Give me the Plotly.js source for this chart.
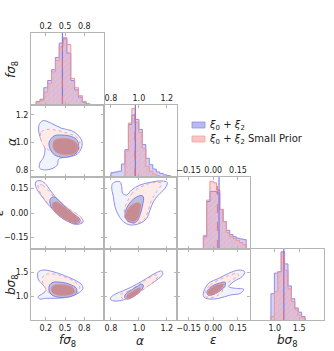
<!DOCTYPE html>
<html>
<head>
<meta charset="utf-8">
<script src="https://cdn.plot.ly/plotly-3.0.1.min.js"></script>
<style>html,body{margin:0;padding:0;background:#fff}#chart{width:334px;height:351px}</style>
</head>
<body>
<div id="chart"></div>
<script>
// parameter axes
const paramLabels = ["<i>fσ</i><sub>8</sub>", "<i>α</i>", "<i>ε</i>", "<i>bσ</i><sub>8</sub>"];
const paramRanges = [[-0.03, 1.1], [0.75, 1.27], [-0.22, 0.22], [0.5, 2.0]];
const paramTicks = [[0.2, 0.5, 0.8], [0.8, 1.0, 1.2], [-0.15, 0, 0.15], [1.0, 1.5]];
const paramTickText = [["0.2", "0.5", "0.8"], ["0.8", "1.0", "1.2"], ["−0.15", "0.00", "0.15"], ["1.0", "1.5"]];

const seriesNames = ["<i>ξ</i><sub>0</sub> + <i>ξ</i><sub>2</sub>", "<i>ξ</i><sub>0</sub> + <i>ξ</i><sub>2</sub> Small Prior"];

// 1D marginals (left edge of first bin, bin width, normalised heights)
const fs8BinStart = 0.05, fs8BinWidth = 0.06;
const fs8Blue = [0.05, 0.08, 0.24, 0.34, 0.49, 0.66, 0.86, 0.92, 0.72, 0.34, 0.21, 0.11, 0.04, 0.01];
const fs8Pink = [0.04, 0.06, 0.18, 0.30, 0.46, 0.62, 0.81, 0.94, 0.84, 0.37, 0.24, 0.13, 0.05, 0.02];

const alphaBinStart = 0.80, alphaBinWidth = 0.025;
const alphaBlue = [0.06, 0.07, 0.08, 0.18, 0.38, 0.73, 0.86, 0.80, 0.66, 0.45, 0.26, 0.17, 0.11, 0.07, 0.05, 0.03, 0.02];
const alphaPink = [0, 0, 0, 0, 0.36, 0.75, 0.95, 0.76, 0.62, 0.40, 0.15, 0.08, 0.04, 0.02, 0, 0, 0];

const epsBinStart = -0.06, epsBinWidth = 0.02;
const epsBlue = [0.17, 0.66, 0.80, 0.80, 0.78, 0.55, 0.38, 0.26, 0.20, 0.17, 0.15, 0.14, 0.13];
const epsPink = [0.19, 0.68, 0.94, 0.92, 0.82, 0.55, 0.38, 0.23, 0.17, 0.15, 0.12, 0.09, 0.06];

const bs8BinStart = 0.92, bs8BinWidth = 0.07;
const bs8Blue = [0.37, 0.66, 0.68, 0.96, 0.79, 0.48, 0.30, 0.17, 0.11, 0.05];
const bs8Pink = [0.05, 0.40, 0.68, 0.96, 0.70, 0.44, 0.26, 0.15, 0.07, 0.03];

const blueMedians = [0.46, 0.975, 0.035, 1.185];
const pinkMedians = [0.46, 0.972, 0.025, 1.18];

// 2D contours, [x, y] in data units
const fs8Alpha_blueOuter = [[0.095,1.065],[0.095,1.126],[0.157,1.157],[0.287,1.138],[0.443,1.102],[0.599,1.085],[0.702,1.053],[0.765,1.005],[0.754,0.957],[0.692,0.916],[0.573,0.897],[0.469,0.892],[0.401,0.878],[0.380,0.837],[0.313,0.813],[0.183,0.801],[0.105,0.813],[0.105,0.849],[0.157,0.885],[0.183,0.921],[0.183,0.969],[0.131,1.017]];
const fs8Alpha_pinkOuter = [[0.121,1.029],[0.131,1.077],[0.235,1.094],[0.391,1.085],[0.547,1.065],[0.676,1.041],[0.728,1.005],[0.728,0.957],[0.676,0.921],[0.547,0.902],[0.417,0.909],[0.287,0.933],[0.209,0.957],[0.157,0.981]];
const fs8Alpha_blueInner = [[0.250,0.993],[0.287,1.029],[0.339,1.049],[0.443,1.053],[0.573,1.046],[0.676,1.022],[0.713,0.981],[0.692,0.933],[0.599,0.902],[0.469,0.892],[0.339,0.909],[0.276,0.945]];
const fs8Alpha_pinkInner = [[0.313,0.993],[0.339,1.017],[0.443,1.029],[0.573,1.024],[0.676,0.998],[0.702,0.957],[0.651,0.921],[0.521,0.909],[0.391,0.921],[0.323,0.950]];

const fs8Eps_blueOuter = [[0.048,0.192],[0.110,0.198],[0.188,0.181],[0.266,0.141],[0.344,0.100],[0.448,0.059],[0.578,0.018],[0.733,-0.022],[0.785,-0.053],[0.733,-0.067],[0.630,-0.067],[0.526,-0.043],[0.396,-0.002],[0.266,0.039],[0.162,0.090],[0.069,0.141],[0.038,0.171]];
const fs8Eps_pinkOuter = [[0.084,0.177],[0.152,0.169],[0.256,0.130],[0.344,0.090],[0.474,0.049],[0.604,0.014],[0.749,-0.026],[0.765,-0.055],[0.708,-0.061],[0.578,-0.047],[0.422,-0.012],[0.276,0.039],[0.162,0.096],[0.090,0.145]];
const fs8Eps_blueInner = [[0.276,0.090],[0.334,0.098],[0.422,0.069],[0.526,0.029],[0.656,-0.012],[0.733,-0.039],[0.723,-0.059],[0.656,-0.063],[0.552,-0.053],[0.422,-0.022],[0.318,0.018],[0.266,0.059]];
const fs8Eps_pinkInner = [[0.308,0.063],[0.370,0.069],[0.448,0.049],[0.552,0.018],[0.671,-0.018],[0.723,-0.043],[0.682,-0.059],[0.578,-0.055],[0.448,-0.026],[0.344,0.008],[0.303,0.039]];

const alphaEps_blueOuter = [[0.817,0.185],[0.865,0.191],[0.877,0.161],[0.884,0.120],[0.913,0.110],[0.948,0.141],[1.008,0.171],[1.080,0.187],[1.164,0.196],[1.204,0.187],[1.188,0.151],[1.140,0.110],[1.104,0.069],[1.080,0.018],[1.056,-0.033],[1.008,-0.063],[0.937,-0.073],[0.889,-0.053],[0.853,-0.012],[0.829,0.039],[0.817,0.100],[0.805,0.161]];
const alphaEps_pinkOuter = [[0.917,0.069],[0.948,0.116],[0.984,0.145],[1.056,0.175],[1.116,0.187],[1.164,0.181],[1.128,0.130],[1.092,0.079],[1.068,0.018],[1.044,-0.033],[0.996,-0.059],[0.937,-0.059],[0.901,-0.033],[0.896,0.018]];
const alphaEps_blueInner = [[0.925,0.049],[0.960,0.084],[1.008,0.106],[1.032,0.100],[1.027,0.049],[1.008,-0.012],[0.984,-0.053],[0.948,-0.059],[0.913,-0.043],[0.901,-0.002]];
const alphaEps_pinkInner = [[0.917,0.018],[0.948,0.049],[0.984,0.063],[1.013,0.055],[1.008,0.008],[0.984,-0.043],[0.948,-0.053],[0.917,-0.039],[0.905,-0.012]];

const fs8Bs8_blueOuter = [[0.079,1.507],[0.157,1.556],[0.313,1.521],[0.495,1.437],[0.651,1.345],[0.754,1.254],[0.780,1.169],[0.728,1.085],[0.625,1.014],[0.495,0.972],[0.339,0.958],[0.209,0.958],[0.105,0.944],[0.079,0.986],[0.157,1.063],[0.209,1.134],[0.157,1.239],[0.089,1.345]];
const fs8Bs8_pinkOuter = [[0.141,1.380],[0.209,1.465],[0.365,1.465],[0.521,1.394],[0.651,1.310],[0.728,1.204],[0.702,1.099],[0.599,1.028],[0.443,0.993],[0.313,1.028],[0.235,1.099],[0.183,1.204]];
const fs8Bs8_blueInner = [[0.261,1.239],[0.313,1.296],[0.443,1.296],[0.573,1.254],[0.676,1.169],[0.676,1.063],[0.573,0.993],[0.417,0.979],[0.297,1.028],[0.250,1.134]];
const fs8Bs8_pinkInner = [[0.297,1.204],[0.391,1.254],[0.521,1.239],[0.625,1.183],[0.651,1.085],[0.573,1.028],[0.443,1.014],[0.339,1.042],[0.287,1.113]];

const alphaBs8_blueOuter = [[0.798,0.972],[0.829,1.042],[0.901,1.134],[0.984,1.254],[1.056,1.380],[1.116,1.486],[1.164,1.535],[1.171,1.465],[1.128,1.345],[1.056,1.204],[0.996,1.099],[0.936,0.993],[0.889,0.923],[0.829,0.901],[0.800,0.923]];
const alphaBs8_pinkOuter = [[0.865,1.028],[0.925,1.113],[0.996,1.239],[1.056,1.359],[1.116,1.451],[1.140,1.437],[1.104,1.310],[1.044,1.169],[0.984,1.042],[0.936,0.958],[0.889,0.944]];
const alphaBs8_blueInner = [[0.901,1.028],[0.948,1.134],[0.996,1.225],[1.027,1.254],[1.032,1.204],[1.008,1.099],[0.960,0.993],[0.925,0.944],[0.901,0.958]];
const alphaBs8_pinkInner = [[0.913,1.014],[0.960,1.113],[1.004,1.183],[1.013,1.155],[0.989,1.042],[0.948,0.972],[0.917,0.958]];

const epsBs8_blueOuter = [[-0.058,1.099],[-0.028,1.275],[0.033,1.380],[0.094,1.486],[0.154,1.556],[0.191,1.521],[0.175,1.416],[0.124,1.310],[0.094,1.204],[0.134,1.169],[0.185,1.148],[0.164,1.063],[0.104,1.028],[0.033,0.958],[-0.028,0.944],[-0.058,0.993]];
const epsBs8_pinkOuter = [[-0.048,1.099],[-0.018,1.239],[0.033,1.345],[0.094,1.437],[0.144,1.486],[0.154,1.437],[0.114,1.345],[0.073,1.239],[0.053,1.099],[0.013,0.993],[-0.028,0.972],[-0.048,1.014]];
const epsBs8_blueInner = [[-0.038,1.099],[-0.012,1.204],[0.033,1.275],[0.073,1.296],[0.069,1.204],[0.033,1.099],[-0.008,1.028],[-0.032,1.028]];
const epsBs8_pinkInner = [[-0.032,1.099],[-0.008,1.190],[0.033,1.254],[0.063,1.261],[0.053,1.169],[0.023,1.085],[-0.012,1.028],[-0.032,1.042]];

const BLUE_LINE = "#8c8ce8", BLUE_FILL = "rgba(125,125,235,0.34)";
const PINK_LINE = "#f29494", PINK_FILL = "rgba(248,145,145,0.32)";
const SPINE = "#b5b5b5";

const W = 334, H = 351;
const colPx = [[31, 103.5], [104, 176.5], [177, 249.5], [250.5, 323.5]];
const rowPx = [[33, 105], [105, 177], [177, 249], [249, 320]];

const hists = [
  { start: fs8BinStart, w: fs8BinWidth, blue: fs8Blue, pink: fs8Pink },
  { start: alphaBinStart, w: alphaBinWidth, blue: alphaBlue, pink: alphaPink },
  { start: epsBinStart, w: epsBinWidth, blue: epsBlue, pink: epsPink },
  { start: bs8BinStart, w: bs8BinWidth, blue: bs8Blue, pink: bs8Pink },
];
const contours = {
  "1,0": [fs8Alpha_blueOuter, fs8Alpha_pinkOuter, fs8Alpha_blueInner, fs8Alpha_pinkInner],
  "2,0": [fs8Eps_blueOuter, fs8Eps_pinkOuter, fs8Eps_blueInner, fs8Eps_pinkInner],
  "2,1": [alphaEps_blueOuter, alphaEps_pinkOuter, alphaEps_blueInner, alphaEps_pinkInner],
  "3,0": [fs8Bs8_blueOuter, fs8Bs8_pinkOuter, fs8Bs8_blueInner, fs8Bs8_pinkInner],
  "3,1": [alphaBs8_blueOuter, alphaBs8_pinkOuter, alphaBs8_blueInner, alphaBs8_pinkInner],
  "3,2": [epsBs8_blueOuter, epsBs8_pinkOuter, epsBs8_blueInner, epsBs8_pinkInner],
};
// fill, line colour, dash for blue 95, pink 95, blue 68, pink 68
const contourStyle = [
  ["#f0f2fc", "#9090ea", "solid"],
  ["#fcebe9", "#f3a6a4", "dot"],
  ["#bcc0de", "#8080de", "solid"],
  ["#c68b93", "#eb9494", "dot"],
];

const traces = [];
const layout = {
  width: W, height: H,
  margin: { l: 0, r: 0, t: 0, b: 0 },
  paper_bgcolor: "#fff", plot_bgcolor: "#fff",
  showlegend: false, barmode: "overlay",
  font: { family: "DejaVu Sans", color: "#222" },
  annotations: [], shapes: [],
};

const axBase = {
  showline: true, linecolor: SPINE, linewidth: 1, mirror: "ticks",
  ticks: "inside", ticklen: 3, tickcolor: SPINE,
  showgrid: false, zeroline: false, fixedrange: true,
  tickfont: { family: "DejaVu Sans", size: 8, color: "#222" },
};

let n = 0;
for (let r = 0; r < 4; r++) {
  for (let c = 0; c <= r; c++) {
    n++;
    const xa = "x" + (n === 1 ? "" : n), ya = "y" + (n === 1 ? "" : n);
    const xKey = "xaxis" + (n === 1 ? "" : n), yKey = "yaxis" + (n === 1 ? "" : n);
    const diag = r === c;
    const xLabels = (diag && r < 3) || r === 3;
    layout[xKey] = {
      ...axBase, anchor: ya,
      domain: [colPx[c][0] / W, colPx[c][1] / W],
      range: paramRanges[c],
      tickvals: paramTicks[c], ticktext: paramTickText[c],
      showticklabels: xLabels, side: diag && r < 3 ? "top" : "bottom",
    };
    layout[yKey] = {
      ...axBase, anchor: xa,
      domain: [1 - rowPx[r][1] / H, 1 - rowPx[r][0] / H],
      range: diag ? [0, 1] : paramRanges[r],
      showticklabels: !diag && c === 0,
    };
    if (diag) {
      layout[yKey].ticks = "";
    } else {
      layout[yKey].tickvals = paramTicks[r];
      layout[yKey].ticktext = paramTickText[r];
    }

    if (diag) {
      const h = hists[r];
      const centers = h.blue.map((_, i) => h.start + (i + 0.5) * h.w);
      const edges = h.blue.map((_, i) => h.start + i * h.w).concat([h.start + h.blue.length * h.w]);
      traces.push({
        type: "bar", x: centers, y: h.blue, width: h.w, xaxis: xa, yaxis: ya,
        marker: { color: BLUE_FILL, line: { width: 0 } }, hoverinfo: "skip",
      });
      traces.push({
        type: "bar", x: centers, y: h.pink, width: h.w, xaxis: xa, yaxis: ya,
        marker: {
          color: PINK_FILL, line: { width: 0 },
          pattern: { shape: "/", fillmode: "replace", bgcolor: PINK_FILL, fgcolor: "rgba(240,120,120,0.3)", size: 4, solidity: 0.15 },
        },
        hoverinfo: "skip",
      });
      [[h.blue, BLUE_LINE], [h.pink, PINK_LINE]].forEach(([vals, col]) => {
        traces.push({
          type: "scatter", mode: "lines", xaxis: xa, yaxis: ya, hoverinfo: "skip",
          x: [edges[0]].concat(edges),
          y: [0].concat(vals, [0]),
          line: { color: col, width: 1, shape: "hv" },
        });
      });
      traces.push({
        type: "scatter", mode: "lines", xaxis: xa, yaxis: ya, hoverinfo: "skip",
        x: [blueMedians[r], blueMedians[r]], y: [0, 1],
        line: { color: "#7c7ce2", width: 1.2 },
      });
      traces.push({
        type: "scatter", mode: "lines", xaxis: xa, yaxis: ya, hoverinfo: "skip",
        x: [pinkMedians[r], pinkMedians[r]], y: [0, 1],
        line: { color: "#e8707c", width: 1, dash: "dash" },
      });
    } else {
      contours[r + "," + c].forEach((pts, k) => {
        const [fill, col, dash] = contourStyle[k];
        traces.push({
          type: "scatter", mode: "lines", xaxis: xa, yaxis: ya, hoverinfo: "skip",
          x: pts.map((p) => p[0]).concat([pts[0][0]]),
          y: pts.map((p) => p[1]).concat([pts[0][1]]),
          fill: "toself", fillcolor: fill,
          line: { color: col, width: 1, dash, shape: "spline", smoothing: 1 },
        });
      });
    }
  }
}

// axis labels
const leftLabelPos = [[12, 70], [12, 142], [-1, 213], [12, 285]];
const bottomLabelPos = [[67, 341], [140, 341], [213, 340], [287, 341]];
paramLabels.forEach((lab, i) => {
  layout.annotations.push({
    xref: "paper", yref: "paper", x: leftLabelPos[i][0] / W, y: 1 - leftLabelPos[i][1] / H,
    text: lab, textangle: -90, showarrow: false, xanchor: "center", yanchor: "middle",
    font: { size: 12, color: "#222" },
  });
  layout.annotations.push({
    xref: "paper", yref: "paper", x: bottomLabelPos[i][0] / W, y: 1 - bottomLabelPos[i][1] / H,
    text: lab, showarrow: false, xanchor: "center", yanchor: "middle",
    font: { size: 12, color: "#222" },
  });
});

// legend
const legendRows = [125, 139];
const legendFill = ["rgba(125,125,232,0.55)", "rgba(248,165,165,0.65)"];
const legendEdge = ["#9090ea", "#f4a4a4"];
seriesNames.forEach((name, i) => {
  const cy = legendRows[i];
  layout.shapes.push({
    type: "rect", xref: "paper", yref: "paper",
    x0: 192 / W, x1: 205 / W, y0: 1 - (cy + 3) / H, y1: 1 - (cy - 3) / H,
    fillcolor: legendFill[i], line: { color: legendEdge[i], width: 0.8 },
  });
  layout.annotations.push({
    xref: "paper", yref: "paper", x: 207 / W, y: 1 - cy / H,
    text: name, showarrow: false, xanchor: "left", yanchor: "middle",
    font: { size: 10, color: "#222" },
  });
});

Plotly.newPlot("chart", traces, layout, { displayModeBar: false, staticPlot: true });
</script>
</body>
</html>
